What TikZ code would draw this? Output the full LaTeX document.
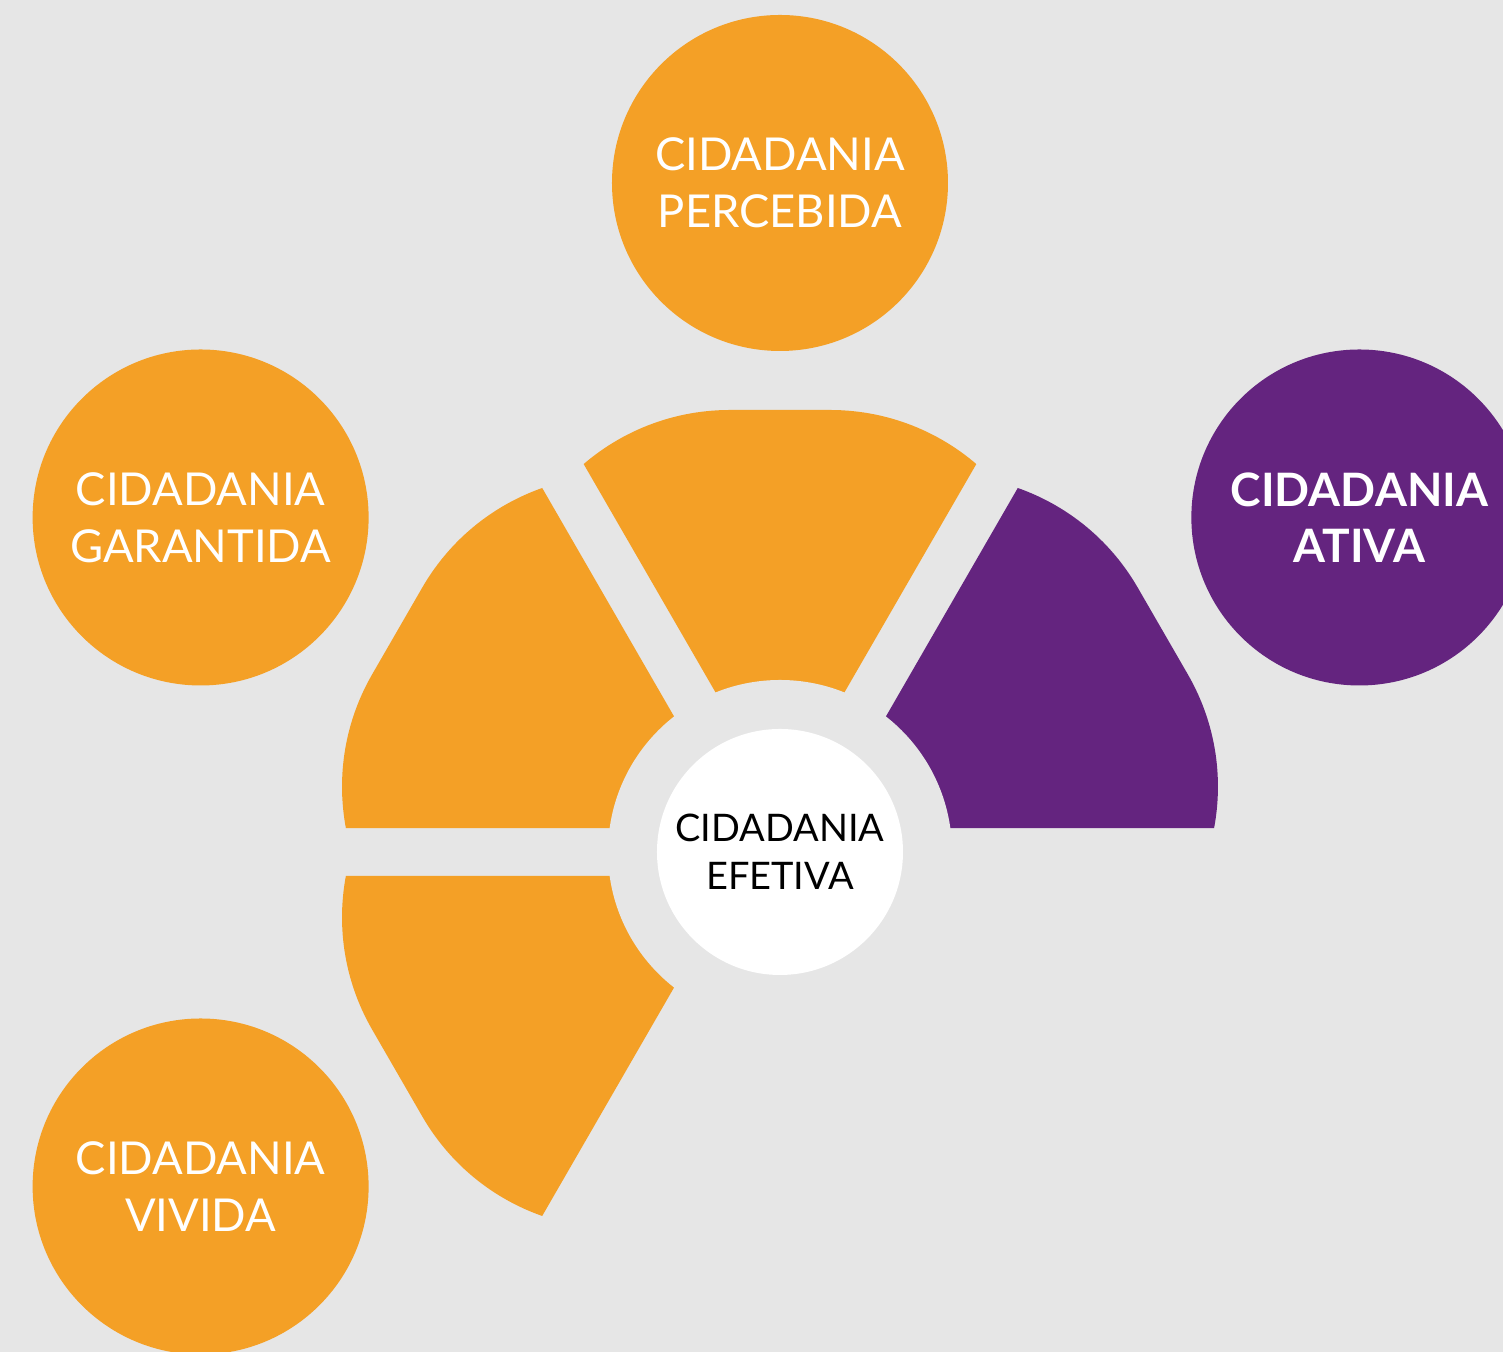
\documentclass[tikz,border=0pt]{standalone}
\usepackage{fontspec}
\setmainfont{Lato}
\definecolor{bgray}{RGB}{230,230,230}
\definecolor{porange}{RGB}{244,160,38}
\definecolor{ppurple}{RGB}{100,36,127}

\begin{document}
\begin{tikzpicture}[
  main node/.style={circle,inner sep=0pt,minimum size=3.36cm,align=center,text=white,
    font=\fontsize{12.9}{16.1}\selectfont},
  centre node/.style={circle,inner sep=0pt,minimum size=2.46cm,align=center,fill=white,
    text=black,font=\fontsize{10.8}{13.6}\selectfont}]

  \clip (-7.80,-5.00) rectangle (7.23,8.52);
  \fill[bgray] (-7.80,-5.00) rectangle (7.23,8.52);

  \foreach \rot/\col in {0/porange,60/porange,120/porange,-60/ppurple}{
    \begin{scope}[rotate=\rot]
      \clip (0,0.48) -- (3.5,6.54) -- (-3.5,6.54) -- cycle;
      \fill[\col] (-2.75,0) -- (-2.75,2.17) arc[start angle=180,end angle=90,radius=2.25]
        -- (0.5,4.42) arc[start angle=90,end angle=0,radius=2.25] -- (2.75,0) -- cycle;
    \end{scope}
  }
  \fill[bgray] (0,0) circle (1.72);

  \node[centre node] (efetiva) at (0,0) {CIDADANIA\\EFETIVA};

  \node[main node,fill=porange] (percebida) at (90:6.69) {CIDADANIA\\PERCEBIDA};
  \node[main node,fill=porange] (garantida) at (150:6.69) {CIDADANIA\\GARANTIDA};
  \node[main node,fill=porange] (vivida) at (210:6.69) {CIDADANIA\\VIVIDA};
  \node[main node,fill=ppurple,font=\fontsize{13.1}{16.1}\selectfont\bfseries] (ativa) at (30:6.69) {CIDADANIA\\ATIVA};

\end{tikzpicture}
\end{document}
